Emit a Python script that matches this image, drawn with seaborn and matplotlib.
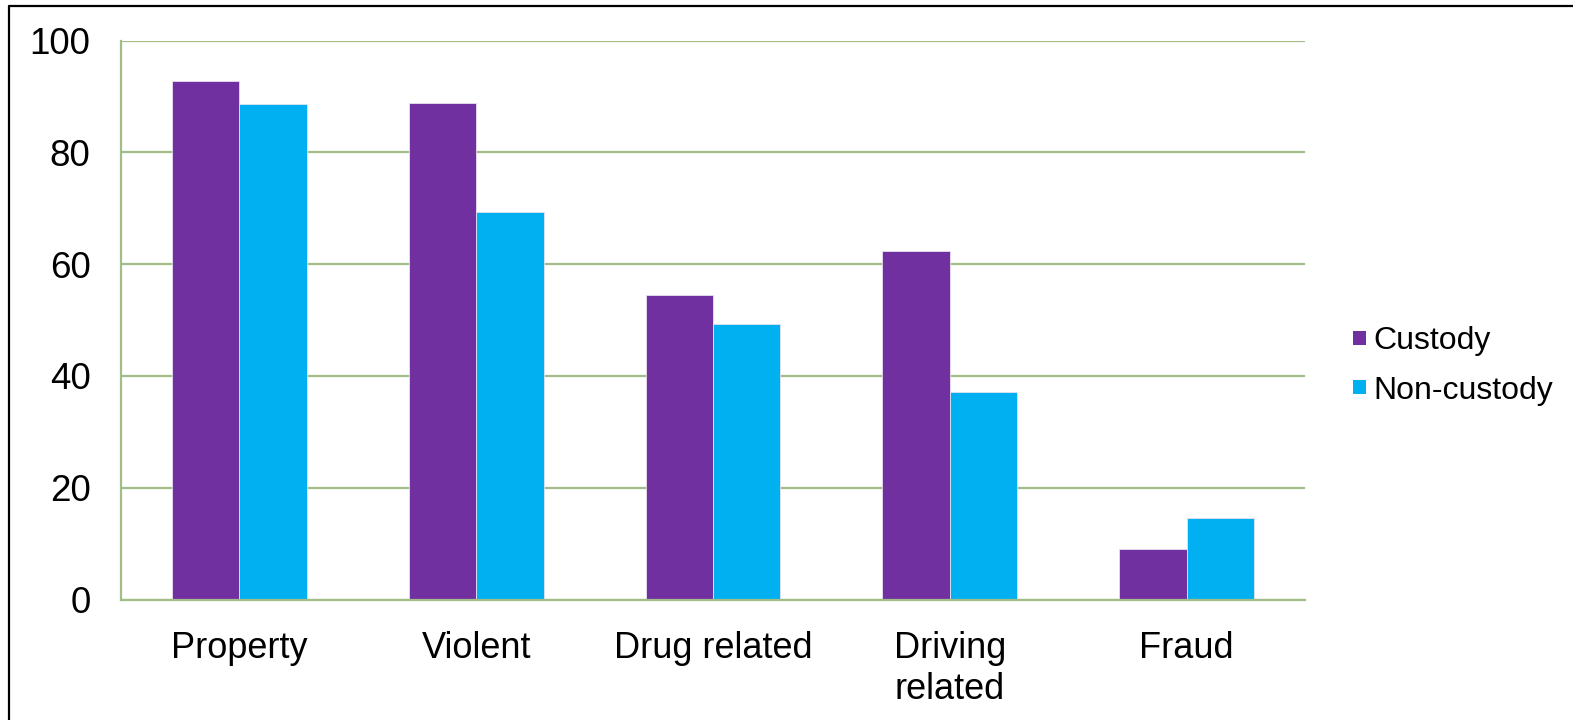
import matplotlib
matplotlib.use("Agg")
import matplotlib.pyplot as plt
from matplotlib.lines import Line2D
import seaborn as sns
import pandas as pd

categories = ["Property", "Violent", "Drug related", "Driving\nrelated", "Fraud"]
custody = [92.8, 88.8, 54.5, 62.4, 9.0]
non_custody = [88.6, 69.3, 49.2, 37.1, 14.5]
series = ["Custody", "Non-custody"]
colors = ["#7030A0", "#00B0F0"]
y_ticks = [0, 20, 40, 60, 80, 100]

df = pd.DataFrame({
    "category": categories * 2,
    "value": custody + non_custody,
    "series": [series[0]] * len(categories) + [series[1]] * len(categories),
})

sns.set_theme(style="white")
plt.rcParams["font.family"] = ["Liberation Sans", "DejaVu Sans"]
plt.rcParams["text.color"] = "black"

grid_color = "#A3BD86"
fig = plt.figure(figsize=(15.73, 7.2), dpi=100)
ax = fig.add_axes([121 / 1573, 1 - 599.5 / 720, (1305 - 121) / 1573, (599.5 - 40.5) / 720])

sns.barplot(data=df, x="category", y="value", hue="series", order=categories,
            hue_order=series, palette=colors, width=0.57, gap=0,
            saturation=1, ax=ax, edgecolor="#E8E0F0", linewidth=0.6)

ax.set_ylim(0, 100)
ax.set_xlim(-0.5, len(categories) - 0.5)
ax.set_yticks(y_ticks)
ax.set_yticklabels([str(t) for t in y_ticks])
ax.set_xlabel("")
ax.set_ylabel("")

ax.yaxis.grid(True, color=grid_color, linewidth=1.6)
ax.set_axisbelow(True)
for side in ["top", "right"]:
    ax.spines[side].set_visible(False)
for side in ["left", "bottom"]:
    ax.spines[side].set_color(grid_color)
    ax.spines[side].set_linewidth(1.6)

# category labels centred under each group, ticks on the group boundaries
ax.set_xticks(list(range(len(categories))))
ax.set_xticklabels(categories, fontsize=26, linespacing=1.2)
ax.tick_params(axis="x", length=0, pad=23)
ax.set_xticks([i - 0.5 for i in range(len(categories) + 1)], minor=True)
ax.tick_params(axis="x", which="minor", length=8, width=1.6, color=grid_color, direction="out")
ax.tick_params(axis="y", length=8, width=1.6, color=grid_color, direction="out",
               labelsize=26.5, pad=14)
ax.tick_params(axis="both", labelcolor="black")

leg = ax.legend(loc="center left", bbox_to_anchor=(1353 / 1573, 1 - 366 / 720),
                bbox_transform=fig.transFigure, frameon=False, fontsize=23,
                handlelength=0.42, handleheight=0.3, handletextpad=0.22,
                labelspacing=0.62, borderpad=0, borderaxespad=0)
for t in leg.get_texts():
    t.set_color("black")
for h in leg.legend_handles:
    h.set_edgecolor("none")

# outer frame lines
fig.add_artist(Line2D([9 / 1573, 9 / 1573], [1 - 6 / 720, 0], transform=fig.transFigure,
                      color="black", linewidth=1.6))
fig.add_artist(Line2D([9 / 1573, 1], [1 - 6 / 720, 1 - 6 / 720], transform=fig.transFigure,
                      color="black", linewidth=1.6))

fig.savefig("out.png", dpi=100, facecolor="white")
